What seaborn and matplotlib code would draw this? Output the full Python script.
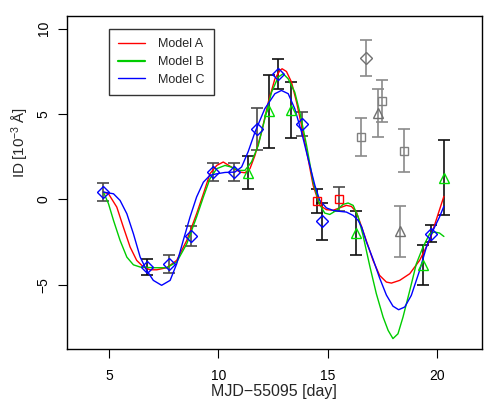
import matplotlib
matplotlib.use("Agg")
import matplotlib.pyplot as plt
import seaborn as sns
import pandas as pd
from matplotlib.lines import Line2D

# ---------------- data ----------------
obs_x = [4.74, 6.75, 7.72, 8.74, 9.75, 10.72, 11.33, 11.76, 12.32, 12.72, 13.30, 13.83,
         14.50, 14.74, 15.52, 16.28, 16.51, 16.75, 17.30, 17.50, 18.32, 18.50, 19.35, 19.72, 20.31]
obs_y = [0.43, -3.96, -3.77, -2.15, 1.60, 1.60, 1.56, 4.14, 5.15, 7.36, 5.25, 4.41,
         -0.08, -1.29, 0.02, -1.95, 3.67, 8.29, 5.07, 5.78, -1.87, 2.85, -3.86, -2.01, 1.27]
obs_err = [0.54, 0.46, 0.52, 0.58, 0.52, 0.54, 0.97, 1.24, 2.15, 0.88, 1.65, 0.71,
           0.69, 1.10, 0.69, 1.29, 1.12, 1.07, 1.39, 1.23, 1.49, 1.26, 1.18, 0.51, 2.19]
obs_kind = ['C', 'C', 'C', 'C', 'C', 'C', 'B', 'C', 'B', 'C', 'B', 'C',
            'A', 'C', 'A', 'B', 'Xs', 'Xd', 'Xt', 'Xs', 'Xt', 'Xs', 'B', 'C', 'B']
obs_set = ['m', 'k', 'm', 'm', 'm', 'm', 'k', 'm', 'k', 'k', 'k', 'm',
           'k', 'k', 'm', 'k', 'g', 'g', 'g', 'g', 'g', 'g', 'k', 'k', 'k']

a_x = [4.74, 4.97, 5.35, 5.65, 5.96, 6.26, 6.57, 6.87, 7.18, 7.63, 8.09, 8.55, 9.00, 9.31,
       9.61, 9.92, 10.22, 10.60, 10.98, 11.21, 11.44, 11.67, 11.97, 12.28, 12.58, 12.81,
       12.91, 13.11, 13.34, 13.57, 13.80, 14.10, 14.33, 14.63, 14.94, 15.24, 15.55, 15.85,
       16.08, 16.31, 16.55, 16.77, 17.07, 17.37, 17.68, 17.91, 18.29, 18.75, 19.20, 19.66,
       20.05, 20.31]
a_y = [0.43, 0.33, -0.45, -1.62, -2.79, -3.57, -3.96, -4.12, -4.12, -4.00, -3.57, -2.40,
       -0.84, 0.33, 1.50, 1.99, 2.19, 1.89, 1.60, 1.56, 1.80, 2.58, 3.94, 5.70, 7.06, 7.55,
       7.65, 7.49, 6.87, 5.70, 4.33, 2.38, 0.82, -0.35, -0.60, -0.64, -0.49, -0.35,
       -0.41, -0.74, -1.62, -2.45, -3.57, -4.45, -4.84, -4.90, -4.74, -4.35, -3.57, -2.40,
       -0.84, 0.18]

b_x = [4.74, 4.97, 5.20, 5.50, 5.81, 6.11, 6.42, 7.02, 7.63, 8.09, 8.55, 9.00, 9.31, 9.61,
       9.92, 10.30, 10.60, 10.91, 11.21, 11.51, 11.82, 12.12, 12.43, 12.73, 12.96, 13.19,
       13.49, 13.72, 14.03, 14.33, 14.63, 14.86, 15.09, 15.40, 15.70, 15.93, 16.16, 16.39,
       16.61, 16.92, 17.22, 17.53, 17.76, 17.98, 18.21, 18.44, 18.75, 19.05, 19.35, 19.66,
       19.89, 20.11, 20.31]
b_y = [0.43, -0.25, -1.23, -2.40, -3.38, -3.83, -3.96, -4.00, -4.00, -3.67, -2.60, -1.03,
       0.14, 1.21, 1.80, 1.99, 1.89, 1.70, 1.70, 2.19, 3.16, 4.72, 6.28, 7.16, 7.36, 7.06,
       6.28, 5.11, 3.16, 1.02, -0.30, -0.80, -0.88, -0.64, -0.29, -0.21, -0.35, -1.03,
       -2.10, -3.90, -5.52, -6.89, -7.67, -8.15, -7.87, -6.89, -5.33, -3.77, -2.80, -2.01,
       -1.91, -1.97, -2.17]

c_x = [4.74, 5.20, 5.50, 5.81, 6.11, 6.42, 6.72, 7.02, 7.40, 7.79, 8.09, 8.39, 8.70, 9.00,
       9.31, 9.61, 9.92, 10.30, 10.75, 11.06, 11.36, 11.67, 12.12, 12.58, 12.88, 13.19,
       13.49, 13.80, 14.10, 14.41, 14.63, 14.94, 15.24, 15.55, 15.85, 16.16, 16.39, 16.55,
       16.77, 17.07, 17.37, 17.68, 17.98, 18.24, 18.52, 18.82, 19.20, 19.51, 19.81, 20.11,
       20.31]
c_y = [0.43, 0.33, -0.06, -0.84, -2.01, -3.38, -4.16, -4.74, -5.03, -4.74, -3.77, -2.40,
       -1.03, 0.14, 1.01, 1.41, 1.50, 1.58, 1.60, 1.90, 2.80, 3.94, 5.31, 6.19, 6.38, 6.19,
       5.31, 3.94, 2.38, 0.82, -0.05, -0.50, -0.64, -0.70, -0.74, -0.94, -1.23, -1.62,
       -2.50, -3.50, -4.60, -5.60, -6.25, -6.46, -6.30, -5.62, -4.16, -2.79, -1.82, -1.03,
       -0.40]

model_names = ["Model A", "Model B", "Model C"]
x_ticks = [5, 10, 15, 20]
y_ticks = [-5, 0, 5, 10]

# ---------------- style ----------------
sns.set_style("ticks")
plt.rcParams['font.family'] = ['Liberation Sans', 'DejaVu Sans']
plt.rcParams['mathtext.fontset'] = 'custom'
plt.rcParams['mathtext.rm'] = 'Liberation Sans'
plt.rcParams['mathtext.it'] = 'Liberation Sans:italic'

curve_colors = {"Model A": "#ff0000", "Model B": "#00cc00", "Model C": "#0000ff"}
kind_style = {
    'A': dict(marker='s', color='#ff0000', ms=6.0),
    'B': dict(marker='^', color='#00dd00', ms=7.0),
    'C': dict(marker='D', color='#0000ff', ms=5.8),
    'Xs': dict(marker='s', color='#808080', ms=6.0),
    'Xd': dict(marker='D', color='#707070', ms=5.8),
    'Xt': dict(marker='^', color='#707070', ms=7.0),
}
set_color = {'k': '#111111', 'm': '#4a4a4a', 'g': '#8a8a8a'}

fig = plt.figure(figsize=(4.98, 4.15), dpi=100)
ax = fig.add_axes([66.5 / 498, 1 - 348.5 / 415, (481.5 - 66.5) / 498, (348.5 - 16) / 415])

# error bars
for xi, yi, ei, si in zip(obs_x, obs_y, obs_err, obs_set):
    ax.errorbar([xi], [yi], yerr=[ei], fmt='none', ecolor=set_color[si],
                elinewidth=1.2, capsize=4.2, capthick=1.2, zorder=2)

# model curves via seaborn
curves = pd.concat([
    pd.DataFrame({"x": a_x, "y": a_y, "model": "Model A"}),
    pd.DataFrame({"x": b_x, "y": b_y, "model": "Model B"}),
    pd.DataFrame({"x": c_x, "y": c_y, "model": "Model C"}),
])
sns.lineplot(data=curves, x="x", y="y", hue="model", palette=curve_colors,
             estimator=None, sort=False, linewidth=1.0, legend=False, ax=ax, zorder=3)

# observation markers
for xi, yi, ki in zip(obs_x, obs_y, obs_kind):
    st = kind_style[ki]
    ax.plot([xi], [yi], linestyle='none', marker=st['marker'], ms=st['ms'],
            mfc='none', mec=st['color'], mew=1.0, zorder=4)

ax.set_xlim(3.05, 22.03)
ax.set_ylim(-8.73, 10.74)
ax.set_xticks(x_ticks)
ax.set_yticks(y_ticks)
ax.set_yticklabels([str(v).replace('-', '\u2212') for v in y_ticks], rotation=90, va='center')
ax.tick_params(direction='out', length=6.5, width=0.8, labelsize=10, pad=8, colors='black')
ax.tick_params(axis='y', pad=5)
for sp in ax.spines.values():
    sp.set_visible(True)
    sp.set_linewidth(1.0)
    sp.set_color('black')

ax.set_xlabel("MJD\u221255095 [day]", fontsize=11.5, labelpad=1)
ax.set_ylabel("ID\u2009[10$^{-3}$\u2009\u00c5]", fontsize=11)
ax.yaxis.set_label_coords(-0.085, 0.62)

handles = [Line2D([], [], color=curve_colors["Model A"], lw=1.0),
           Line2D([], [], color=curve_colors["Model B"], lw=1.6),
           Line2D([], [], color=curve_colors["Model C"], lw=1.0)]
leg = ax.legend(handles, model_names, loc='upper left', bbox_to_anchor=(42.5 / 415, 1 - 13 / 332.5),
                frameon=True, fancybox=False, fontsize=9, handlelength=2.15, handletextpad=1.0,
                labelspacing=0.45, borderpad=0.75, borderaxespad=0)
leg.get_frame().set_edgecolor('black')
leg.get_frame().set_linewidth(1.0)

fig.savefig("out.png", dpi=100)
